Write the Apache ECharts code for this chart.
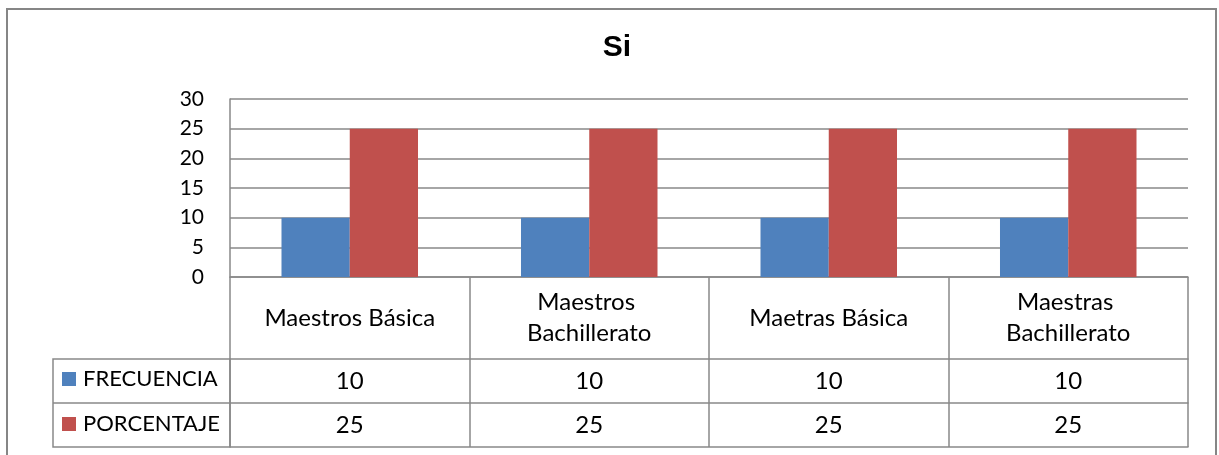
<!DOCTYPE html>
<html>
<head>
<meta charset="utf-8">
<script src="https://cdn.jsdelivr.net/npm/echarts@6/dist/echarts.min.js"></script>
<style>
html,body{margin:0;padding:0;background:#fff;}
#chart{width:1219px;height:455px;}
</style>
</head>
<body>
<div id="chart"></div>
<script>
const categories = ['Maestros Básica', 'Maestros Bachillerato', 'Maetras Básica', 'Maestras Bachillerato'];
const frecuencia = [10, 10, 10, 10];
const porcentaje = [25, 25, 25, 25];
const seriesNames = ['FRECUENCIA', 'PORCENTAJE'];
const yTicks = { min: 0, max: 30, interval: 5 };

const LINE = '#898989';
const FONT = 'Lato';
const chart = echarts.init(document.getElementById('chart'));

const tableAxis = (offset, values, showLabel) => ({
  type: 'category',
  data: categories,
  gridIndex: 0,
  position: 'bottom',
  offset: offset,
  axisLine: { show: true, lineStyle: { color: LINE, width: 1.5 } },
  axisTick: { show: false },
  axisLabel: {
    show: showLabel,
    interval: 0,
    margin: 22,
    verticalAlign: 'middle',
    fontFamily: FONT,
    fontSize: 24,
    color: '#000',
    formatter: (v, i) => values ? String(values[i]) : ''
  },
  splitLine: { show: false }
});

chart.setOption({
  animation: false,
  title: {
    text: 'Si',
    left: 612,
    textAlign: 'center',
    top: 28,
    textStyle: { fontFamily: 'Liberation Sans', fontWeight: 'bold', fontSize: 30, color: '#000' }
  },
  legend: {
    orient: 'vertical',
    left: 62,
    top: 368,
    padding: 0,
    itemWidth: 14,
    itemHeight: 14,
    itemGap: 23,
    icon: 'rect',
    data: seriesNames,
    textStyle: { fontFamily: FONT, fontSize: 22, lineHeight: 22, color: '#000', padding: [0, 0, 0, 2] }
  },
  grid: { left: 230, right: 31, top: 99, bottom: 178, containLabel: false },
  xAxis: [
    {
      type: 'category',
      data: categories,
      position: 'bottom',
      axisLine: { show: true, lineStyle: { color: LINE, width: 1.5 } },
      axisTick: { show: true, length: 170, interval: 0, lineStyle: { color: LINE, width: 1.5 } },
      axisLabel: {
        interval: 0,
        margin: 41,
        verticalAlign: 'middle',
        fontFamily: FONT,
        fontSize: 24,
        lineHeight: 31,
        color: '#000',
        width: 205,
        overflow: 'break'
      },
      splitLine: { show: false }
    },
    tableAxis(82, frecuencia, true),
    tableAxis(126, porcentaje, true),
    tableAxis(170, null, false)
  ],
  yAxis: {
    type: 'value',
    min: yTicks.min,
    max: yTicks.max,
    interval: yTicks.interval,
    axisLine: { show: true, lineStyle: { color: LINE, width: 1.5 } },
    axisTick: { show: false },
    axisLabel: { margin: 26, fontFamily: FONT, fontSize: 21, color: '#000' },
    splitLine: { show: true, lineStyle: { color: LINE, width: 1.5 } }
  },
  series: [
    { name: seriesNames[0], type: 'bar', data: frecuencia, itemStyle: { color: '#4F81BD' }, barGap: '0%', barCategoryGap: '43%' },
    { name: seriesNames[1], type: 'bar', data: porcentaje, itemStyle: { color: '#C0504D' }, barGap: '0%', barCategoryGap: '43%' }
  ],
  graphic: [
    { type: 'rect', shape: { x: 7, y: 9, width: 1209, height: 480 }, style: { fill: 'none', stroke: '#868686', lineWidth: 2 }, silent: true, z: -1 },
    { type: 'rect', shape: { x: 53, y: 359, width: 177, height: 88 }, style: { fill: 'none', stroke: LINE, lineWidth: 1.5 }, silent: true },
    { type: 'line', shape: { x1: 53, y1: 403, x2: 230, y2: 403 }, style: { stroke: LINE, lineWidth: 1.5 }, silent: true }
  ]
});
</script>
</body>
</html>
